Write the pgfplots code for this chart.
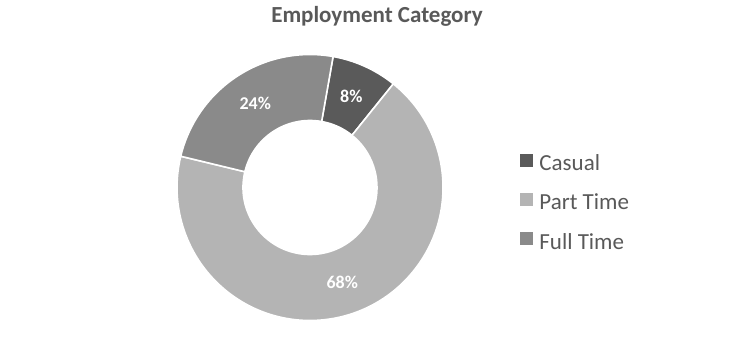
\documentclass[border=0pt]{standalone}
\usepackage{pgfplots}
\pgfplotsset{compat=1.18}
\usepackage{pgfplotstable}
\usepackage{fontspec}
\setmainfont{Carlito}
\definecolor{casual}{HTML}{5A5A5A}
\definecolor{part}{HTML}{B4B4B4}
\definecolor{full}{HTML}{8A8A8A}
\definecolor{txt}{HTML}{595959}

\pgfplotstableread{
category value
Casual 8
PartTime 68
FullTime 24
}\shares
\pgfplotstablegetelem{0}{value}\of\shares \let\vCasual\pgfplotsretval
\pgfplotstablegetelem{1}{value}\of\shares \let\vPart\pgfplotsretval
\pgfplotstablegetelem{2}{value}\of\shares \let\vFull\pgfplotsretval
\pgfmathsetmacro\aS{80}
\pgfmathsetmacro\aA{\aS-3.6*\vCasual}
\pgfmathsetmacro\aB{\aA-3.6*\vPart}
\pgfmathsetmacro\aC{\aB-3.6*\vFull}
\pgfmathsetmacro\mA{(\aS+\aA)/2}
\pgfmathsetmacro\mB{(\aA+\aB)/2}
\pgfmathsetmacro\mC{(\aB+\aC)/2}

\newcommand\sector[3]{%
  \filldraw[fill=#1, draw=white, line width=1.6pt, line join=miter]
    (axis cs:310,150.5) ++(#2:133pt) arc[start angle=#2, end angle=#3, radius=133pt]
    -- ++(#3:-66pt) arc[start angle=#3, end angle=#2, radius=67pt] -- cycle;}
\newcommand\pct[2]{%
  \path (axis cs:310,150.5) ++(#1:100pt) node[text=white, font=\bfseries\fontsize{18}{18}\selectfont] {#2\%};}

\begin{document}
\begin{tikzpicture}
\useasboundingbox (0,0) rectangle (744pt,338pt);
\begin{axis}[
  at={(0,0)}, anchor=south west,
  width=744pt, height=338pt, scale only axis,
  xmin=0, xmax=744, ymin=0, ymax=338,
  hide axis, clip=false,
  legend style={at={(axis cs:520,184)}, anchor=north west, draw=none, fill=none,
    inner sep=0pt, outer sep=0pt,
    font=\fontsize{23}{23}\selectfont, text=txt,
    nodes={inner sep=0pt, text height=14pt, text depth=5pt},
    row sep=17.5pt},
  legend cell align=left,
]
\sector{casual}{\aS}{\aA}
\sector{part}{\aA}{\aB}
\sector{full}{\aB}{\aC}
\pct{\mA}{\vCasual}
\pct{\mB}{\vPart}
\pct{\mC}{\vFull}
\node[anchor=base, text=txt, font=\bfseries\fontsize{23}{23}\selectfont] at (axis cs:377,315) {Employment Category};
\addlegendimage{legend image code/.code={\fill[casual] (0pt,0pt) rectangle (12pt,12pt); \path (19pt,0pt);}}
\addlegendentry{Casual}
\addlegendimage{legend image code/.code={\fill[part] (0pt,0pt) rectangle (12pt,12pt); \path (19pt,0pt);}}
\addlegendentry{Part Time}
\addlegendimage{legend image code/.code={\fill[full] (0pt,0pt) rectangle (12pt,12pt); \path (19pt,0pt);}}
\addlegendentry{Full Time}
\end{axis}
\end{tikzpicture}
\end{document}
